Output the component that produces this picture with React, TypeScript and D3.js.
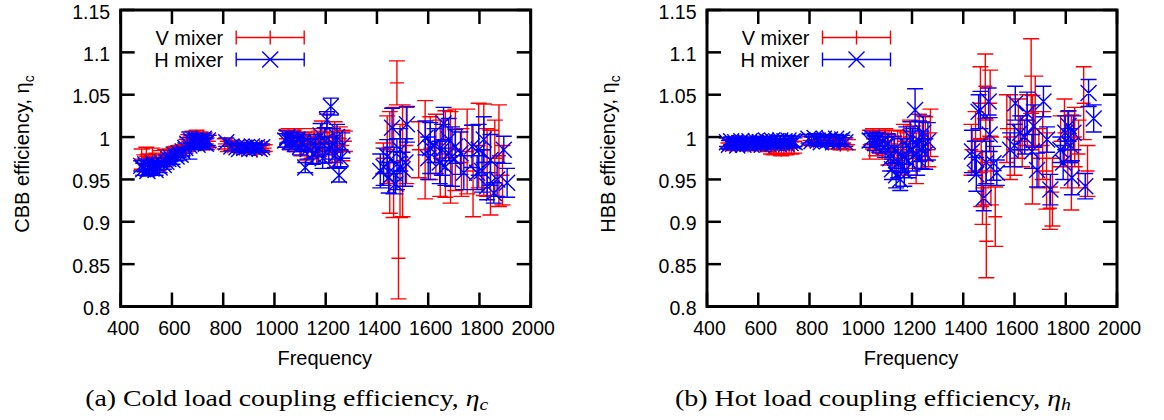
import React from 'react';
import * as d3 from 'd3';

type Pt = [number, number, number]; // frequency, efficiency, error

const freqTicks = [400, 600, 800, 1000, 1200, 1400, 1600, 1800, 2000];
const effTicks = [0.8, 0.85, 0.9, 0.95, 1.0, 1.05, 1.1, 1.15];
const effTickLabels = ['0.8', '0.85', '0.9', '0.95', '1', '1.05', '1.1', '1.15'];
const seriesNames = ['V mixer', 'H mixer'];
const xTitle = 'Frequency';

// (a) cold load, V mixer
const coldV: Pt[] = [
  [482, 0.974, 0.012], [492, 0.969, 0.010], [500, 0.977, 0.011], [508, 0.971, 0.009], [516, 0.966, 0.010], [524, 0.975, 0.012],
  [532, 0.970, 0.009], [540, 0.973, 0.008], [548, 0.968, 0.008], [556, 0.976, 0.008], [564, 0.972, 0.007], [572, 0.978, 0.007],
  [582, 0.977, 0.007], [590, 0.980, 0.006], [598, 0.979, 0.006], [606, 0.982, 0.006], [614, 0.984, 0.005], [622, 0.981, 0.005],
  [630, 0.985, 0.005], [638, 0.983, 0.005], [646, 0.986, 0.005],
  [656, 0.990, 0.007], [664, 0.995, 0.008], [672, 0.993, 0.007], [680, 0.998, 0.009], [688, 0.996, 0.008], [696, 1.000, 0.008],
  [704, 0.994, 0.007], [712, 0.998, 0.008], [720, 0.993, 0.007], [728, 0.997, 0.008], [736, 0.992, 0.007], [744, 0.995, 0.007],
  [806, 0.992, 0.006], [818, 0.989, 0.006], [830, 0.991, 0.005], [842, 0.988, 0.005],
  [852, 0.987, 0.004], [862, 0.989, 0.004], [872, 0.986, 0.004], [882, 0.988, 0.004], [892, 0.985, 0.004], [902, 0.987, 0.004],
  [912, 0.989, 0.004], [922, 0.986, 0.004], [932, 0.984, 0.004], [942, 0.988, 0.004], [952, 0.986, 0.004], [962, 0.987, 0.004],
  [1045, 0.998, 0.010], [1055, 1.002, 0.008], [1065, 0.995, 0.010], [1075, 0.999, 0.009], [1085, 0.993, 0.010], [1095, 1.001, 0.009],
  [1105, 0.990, 0.012], [1115, 0.996, 0.010], [1125, 0.985, 0.012], [1135, 0.994, 0.011], [1145, 0.988, 0.013], [1155, 0.998, 0.012],
  [1165, 0.983, 0.014], [1175, 0.992, 0.015], [1185, 1.005, 0.014], [1195, 0.985, 0.016], [1205, 1.010, 0.017], [1215, 0.995, 0.015],
  [1225, 0.988, 0.018], [1235, 1.002, 0.016], [1245, 0.982, 0.017], [1255, 0.998, 0.014], [1265, 0.990, 0.018], [1275, 0.995, 0.012],
  [1425, 0.975, 0.018], [1440, 0.985, 0.040], [1450, 0.970, 0.060], [1465, 0.970, 0.065], [1478, 1.064, 0.026], [1484, 0.857, 0.048],
  [1490, 0.960, 0.055], [1500, 0.972, 0.066], [1515, 0.990, 0.045],
  [1563, 0.985, 0.033], [1588, 0.985, 0.058], [1608, 0.987, 0.037], [1630, 0.992, 0.035], [1647, 0.975, 0.045], [1667, 0.980, 0.051],
  [1687, 0.976, 0.054], [1706, 0.985, 0.048], [1730, 0.970, 0.040], [1752, 0.983, 0.050],
  [1775, 0.960, 0.054], [1797, 0.990, 0.050], [1817, 0.985, 0.054], [1830, 0.970, 0.040], [1843, 0.958, 0.050], [1860, 0.975, 0.045],
  [1876, 0.978, 0.060], [1890, 0.955, 0.035],
];

// (a) cold load, H mixer
const coldH: Pt[] = [
  [480, 0.966, 0.006], [488, 0.962, 0.007], [496, 0.968, 0.006], [504, 0.960, 0.006], [512, 0.965, 0.007], [520, 0.963, 0.006],
  [528, 0.969, 0.006], [536, 0.961, 0.006], [544, 0.966, 0.005], [552, 0.964, 0.006], [560, 0.970, 0.005], [568, 0.967, 0.005],
  [578, 0.971, 0.005], [586, 0.974, 0.005], [594, 0.976, 0.005], [602, 0.973, 0.005], [610, 0.979, 0.005], [618, 0.977, 0.005],
  [626, 0.981, 0.005], [634, 0.979, 0.005], [642, 0.983, 0.005],
  [652, 0.987, 0.006], [660, 0.992, 0.007], [668, 0.990, 0.016], [676, 0.995, 0.007], [684, 0.993, 0.006], [692, 0.997, 0.007],
  [700, 0.991, 0.006], [708, 0.996, 0.007], [716, 0.994, 0.006], [724, 0.998, 0.006], [732, 0.992, 0.006], [740, 0.996, 0.006],
  [812, 0.994, 0.005], [832, 0.989, 0.005],
  [852, 0.988, 0.004], [862, 0.986, 0.004], [872, 0.989, 0.004], [882, 0.987, 0.004], [892, 0.988, 0.004], [902, 0.986, 0.004],
  [912, 0.989, 0.004], [922, 0.987, 0.004], [932, 0.988, 0.004], [942, 0.986, 0.004], [952, 0.988, 0.004],
  [1042, 0.996, 0.008], [1050, 1.000, 0.007], [1060, 0.994, 0.008], [1070, 0.998, 0.008], [1080, 0.992, 0.009], [1090, 0.997, 0.008],
  [1100, 0.989, 0.010], [1110, 0.994, 0.009], [1120, 0.964, 0.006], [1130, 0.986, 0.012], [1140, 0.993, 0.010], [1150, 0.980, 0.012],
  [1160, 0.990, 0.013], [1170, 0.984, 0.015], [1180, 1.002, 0.014], [1188, 0.975, 0.012], [1196, 0.995, 0.016], [1205, 1.020, 0.010],
  [1212, 0.985, 0.015], [1220, 1.036, 0.010], [1228, 0.992, 0.018], [1236, 0.978, 0.014], [1244, 1.000, 0.015], [1252, 0.955, 0.008],
  [1258, 0.975, 0.010], [1265, 0.990, 0.015],
  [1413, 0.960, 0.020], [1426, 0.965, 0.022], [1440, 0.977, 0.020], [1446, 0.952, 0.018], [1459, 1.011, 0.023], [1465, 0.958, 0.025],
  [1472, 0.945, 0.012], [1478, 0.968, 0.030], [1491, 0.985, 0.025], [1500, 0.962, 0.020], [1511, 0.970, 0.028], [1517, 1.015, 0.021],
  [1589, 0.999, 0.020], [1600, 0.975, 0.025], [1608, 0.987, 0.030], [1625, 0.990, 0.020], [1645, 0.970, 0.025], [1654, 0.985, 0.030],
  [1660, 1.016, 0.019], [1667, 0.965, 0.022], [1680, 0.997, 0.025], [1693, 0.977, 0.035], [1706, 0.989, 0.020], [1726, 0.981, 0.025],
  [1739, 0.958, 0.020],
  [1771, 0.989, 0.025], [1791, 0.958, 0.020], [1797, 0.985, 0.030], [1810, 0.960, 0.025], [1817, 0.997, 0.027], [1830, 0.942, 0.016],
  [1843, 0.973, 0.030], [1856, 0.934, 0.012], [1869, 0.950, 0.020], [1895, 0.985, 0.016], [1908, 0.946, 0.017],
];

// (b) hot load, V mixer
const hotV: Pt[] = [
  [480, 0.993, 0.006], [490, 0.991, 0.006], [500, 0.994, 0.006], [510, 0.990, 0.006], [520, 0.993, 0.005], [530, 0.991, 0.006],
  [540, 0.994, 0.005], [550, 0.992, 0.006], [560, 0.990, 0.006], [570, 0.993, 0.005], [580, 0.991, 0.006], [590, 0.994, 0.005],
  [600, 0.992, 0.006], [610, 0.990, 0.006], [620, 0.993, 0.005], [630, 0.991, 0.006],
  [640, 0.990, 0.007], [650, 0.988, 0.008], [660, 0.986, 0.007], [670, 0.989, 0.008], [680, 0.987, 0.007], [690, 0.985, 0.007],
  [700, 0.988, 0.008], [710, 0.986, 0.007], [720, 0.989, 0.008], [730, 0.987, 0.007], [740, 0.988, 0.007],
  [800, 0.996, 0.005], [815, 0.995, 0.005], [830, 0.997, 0.004], [845, 0.995, 0.004], [860, 0.996, 0.004], [875, 0.994, 0.005],
  [890, 0.995, 0.005], [905, 0.992, 0.006], [920, 0.991, 0.006], [935, 0.993, 0.006], [950, 0.991, 0.006],
  [1035, 0.991, 0.017], [1048, 0.998, 0.012], [1060, 0.993, 0.015], [1072, 0.996, 0.014], [1084, 0.990, 0.016], [1096, 0.995, 0.015],
  [1108, 0.985, 0.018], [1120, 0.992, 0.016], [1132, 0.980, 0.020], [1144, 0.990, 0.018], [1156, 0.985, 0.022], [1168, 0.995, 0.020],
  [1180, 0.980, 0.025], [1192, 1.000, 0.020], [1204, 0.988, 0.025], [1216, 0.975, 0.030], [1228, 1.005, 0.022], [1240, 0.990, 0.028],
  [1252, 0.998, 0.026], [1264, 0.985, 0.020], [1272, 1.005, 0.028],
  [1432, 0.985, 0.030], [1448, 0.995, 0.035], [1467, 1.040, 0.043], [1470, 0.958, 0.040], [1475, 0.940, 0.043], [1486, 1.060, 0.038],
  [1488, 0.970, 0.050], [1490, 0.877, 0.043], [1505, 1.040, 0.039], [1508, 0.960, 0.040], [1525, 0.906, 0.035],
  [1570, 1.010, 0.040], [1583, 1.000, 0.050], [1600, 0.985, 0.030], [1615, 1.010, 0.035], [1630, 0.995, 0.030], [1650, 1.020, 0.030],
  [1665, 1.072, 0.044], [1670, 0.985, 0.064], [1681, 1.030, 0.042], [1695, 0.975, 0.035], [1710, 0.990, 0.040], [1725, 0.960, 0.045],
  [1738, 0.916, 0.025], [1748, 0.935, 0.040],
  [1780, 0.995, 0.030], [1795, 1.005, 0.040], [1808, 0.985, 0.045], [1822, 0.970, 0.056], [1835, 1.000, 0.035], [1850, 0.980, 0.040],
  [1870, 1.040, 0.043], [1885, 0.960, 0.030],
];

// (b) hot load, H mixer
const hotH: Pt[] = [
  [478, 0.994, 0.005], [486, 0.991, 0.005], [494, 0.995, 0.005], [502, 0.992, 0.005], [510, 0.994, 0.005], [518, 0.990, 0.005],
  [526, 0.993, 0.005], [534, 0.995, 0.005], [542, 0.991, 0.005], [550, 0.994, 0.005], [558, 0.992, 0.005], [566, 0.995, 0.005],
  [574, 0.991, 0.005], [582, 0.993, 0.005], [590, 0.995, 0.005], [598, 0.992, 0.005], [606, 0.994, 0.005], [614, 0.991, 0.005],
  [622, 0.993, 0.005], [630, 0.996, 0.005], [638, 0.992, 0.005], [646, 0.994, 0.005], [654, 0.996, 0.005], [662, 0.993, 0.005],
  [670, 0.995, 0.006], [678, 0.992, 0.005], [686, 0.996, 0.006], [694, 0.993, 0.005], [702, 0.995, 0.006], [710, 0.992, 0.005],
  [718, 0.996, 0.006], [726, 0.993, 0.005], [734, 0.995, 0.006], [742, 0.994, 0.005],
  [796, 0.998, 0.005], [808, 0.995, 0.005], [820, 0.999, 0.005], [832, 0.996, 0.005], [844, 0.994, 0.005], [856, 0.998, 0.005],
  [868, 0.995, 0.005], [880, 0.997, 0.005], [892, 0.994, 0.005], [904, 0.998, 0.005], [916, 0.995, 0.005], [928, 0.997, 0.005],
  [940, 0.994, 0.005],
  [1035, 0.996, 0.008], [1045, 0.999, 0.007], [1055, 0.993, 0.009], [1065, 0.997, 0.008], [1075, 0.991, 0.010], [1085, 0.995, 0.009],
  [1095, 0.988, 0.012], [1105, 0.993, 0.011], [1115, 0.975, 0.015], [1122, 0.962, 0.012], [1130, 0.985, 0.016], [1138, 0.955, 0.015],
  [1146, 0.970, 0.018], [1154, 0.950, 0.013], [1162, 0.978, 0.020], [1170, 0.960, 0.018], [1178, 0.990, 0.022], [1186, 0.972, 0.020],
  [1194, 1.000, 0.018], [1202, 0.985, 0.025], [1212, 1.032, 0.025], [1220, 0.975, 0.020], [1228, 0.995, 0.024], [1236, 0.985, 0.022],
  [1244, 1.005, 0.020], [1252, 0.980, 0.018], [1262, 0.995, 0.022],
  [1434, 0.983, 0.025], [1445, 0.975, 0.020], [1451, 0.956, 0.020], [1460, 1.030, 0.020], [1467, 1.032, 0.022], [1480, 0.928, 0.015],
  [1490, 0.970, 0.025], [1499, 1.042, 0.016], [1503, 1.003, 0.020], [1518, 0.969, 0.020], [1531, 0.958, 0.015],
  [1583, 0.985, 0.020], [1600, 0.990, 0.025], [1603, 1.040, 0.020], [1622, 1.005, 0.020], [1640, 1.000, 0.020], [1649, 1.028, 0.025],
  [1668, 0.983, 0.020], [1675, 1.013, 0.025], [1688, 0.961, 0.020], [1713, 1.042, 0.018], [1727, 0.997, 0.015], [1740, 0.938, 0.018],
  [1779, 0.985, 0.015], [1790, 0.970, 0.020], [1798, 1.005, 0.020], [1811, 1.013, 0.018], [1818, 0.990, 0.020], [1824, 0.952, 0.020],
  [1830, 1.005, 0.020], [1876, 0.942, 0.015], [1889, 1.052, 0.016], [1909, 1.022, 0.016],
];

const W = 1164;
const H = 420;
const TOP = 10;
const BOTTOM = 306.5;
const PW = 410;
const RED = '#ff0000';
const BLUE = '#0000ff';
const SANS = '"Liberation Sans", Arial, Helvetica, sans-serif';
const SERIF = '"Liberation Serif", "Times New Roman", serif';

type Scale = d3.ScaleLinear<number, number>;

function errorBarPath(data: Pt[], x: Scale, y: Scale, marker: 'plus' | 'cross'): string {
  const p = d3.path();
  for (const [f, v, e] of data) {
    const cx = x(f);
    const cy = y(v);
    const yHi = y(v + e);
    const yLo = y(v - e);
    p.moveTo(cx, yLo);
    p.lineTo(cx, yHi);
    p.moveTo(cx - 8, yHi);
    p.lineTo(cx + 8, yHi);
    p.moveTo(cx - 8, yLo);
    p.lineTo(cx + 8, yLo);
    if (marker === 'plus') {
      p.moveTo(cx - 7, cy);
      p.lineTo(cx + 7, cy);
      p.moveTo(cx, cy - 7);
      p.lineTo(cx, cy + 7);
    } else {
      p.moveTo(cx - 8, cy - 8);
      p.lineTo(cx + 8, cy + 8);
      p.moveTo(cx - 8, cy + 8);
      p.lineTo(cx + 8, cy - 8);
    }
  }
  return p.toString();
}

function legendSample(x1: number, x2: number, cy: number, marker: 'plus' | 'cross'): string {
  const p = d3.path();
  const cx = (x1 + x2) / 2;
  p.moveTo(x1, cy);
  p.lineTo(x2, cy);
  p.moveTo(x1, cy - 7);
  p.lineTo(x1, cy + 7);
  p.moveTo(x2, cy - 7);
  p.lineTo(x2, cy + 7);
  if (marker === 'plus') {
    p.moveTo(cx - 7, cy);
    p.lineTo(cx + 7, cy);
    p.moveTo(cx, cy - 7);
    p.lineTo(cx, cy + 7);
  } else {
    p.moveTo(cx - 8, cy - 8);
    p.lineTo(cx + 8, cy + 8);
    p.moveTo(cx - 8, cy + 8);
    p.lineTo(cx + 8, cy - 8);
  }
  return p.toString();
}

interface PanelProps {
  x0: number;
  yTitle: string;
  yTitleSub: string;
  caption: string;
  captionSub: string;
  captionLen: number;
  vData: Pt[];
  hData: Pt[];
}

function Panel({ x0, yTitle, yTitleSub, caption, captionSub, captionLen, vData, hData }: PanelProps) {
  const x = d3.scaleLinear().domain([400, 2000]).range([x0, x0 + PW]);
  const y = d3.scaleLinear().domain([0.8, 1.15]).range([BOTTOM, TOP]);
  const legendRows = [
    { name: seriesNames[0], color: RED, marker: 'plus' as const, cy: 37.5, base: 45 },
    { name: seriesNames[1], color: BLUE, marker: 'cross' as const, cy: 59.5, base: 66.5 },
  ];
  return (
    <g>
      <path d={errorBarPath(vData, x, y, 'plus')} stroke={RED} strokeWidth={1.4} fill="none" />
      <path d={errorBarPath(hData, x, y, 'cross')} stroke={BLUE} strokeWidth={1.4} fill="none" />

      {legendRows.map((r) => (
        <g key={r.name}>
          <text x={x0 + 102.5} y={r.base} textAnchor="end" fontFamily={SANS} fontSize={20} fill="#000">
            {r.name}
          </text>
          <path d={legendSample(x0 + 115.5, x0 + 183.5, r.cy, r.marker)} stroke={r.color} strokeWidth={1.4} fill="none" />
        </g>
      ))}

      {freqTicks.map((t) => (
        <g key={'x' + t}>
          <line x1={x(t)} x2={x(t)} y1={BOTTOM} y2={BOTTOM - 14} stroke="#000" strokeWidth={2.5} />
          <line x1={x(t)} x2={x(t)} y1={TOP} y2={TOP + 14} stroke="#000" strokeWidth={2.5} />
          <text x={x(t) + 2.5} y={335} textAnchor="middle" fontFamily={SANS} fontSize={19.5} fill="#000">
            {t}
          </text>
        </g>
      ))}
      {effTicks.map((t, i) => (
        <g key={'y' + i}>
          <line x1={x0} x2={x0 + 14} y1={y(t)} y2={y(t)} stroke="#000" strokeWidth={2.5} />
          <line x1={x0 + PW} x2={x0 + PW - 14} y1={y(t)} y2={y(t)} stroke="#000" strokeWidth={2.5} />
          <text x={x0 - 10.5} y={y(t) + 8.5} textAnchor="end" fontFamily={SANS} fontSize={19.5} fill="#000">
            {effTickLabels[i]}
          </text>
        </g>
      ))}
      <rect x={x0} y={TOP} width={PW} height={BOTTOM - TOP} fill="none" stroke="#000" strokeWidth={3} />

      <text x={x0 + 204} y={365} textAnchor="middle" fontFamily={SANS} fontSize={20} fill="#000">
        {xTitle}
      </text>
      <text
        transform={`translate(${x0 - 92},154) rotate(-90)`}
        textAnchor="middle"
        fontFamily={SANS}
        fontSize={20}
        fill="#000"
      >
        {yTitle}
        <tspan fontSize={14} dy={5}>
          {yTitleSub}
        </tspan>
      </text>

      <text
        x={x0 + 166}
        y={406}
        textAnchor="middle"
        fontFamily={SERIF}
        fontSize={24}
        fill="#000"
        textLength={captionLen}
        lengthAdjust="spacingAndGlyphs"
      >
        {caption}
        <tspan fontStyle="italic">η</tspan>
        <tspan fontStyle="italic" fontSize={17} dy={4}>
          {captionSub}
        </tspan>
      </text>
    </g>
  );
}

export default function App() {
  return (
    <svg
      width={W}
      height={H}
      viewBox={`0 0 ${W} ${H}`}
      style={{ position: 'absolute', left: 0, top: 0, background: '#fff' }}
    >
      <rect x={0} y={0} width={W} height={H} fill="#fff" />
      <Panel
        x0={120.7}
        yTitle="CBB efficiency, η"
        yTitleSub="c"
        caption="(a) Cold load coupling efficiency, "
        captionSub="c"
        captionLen={403}
        vData={coldV}
        hData={coldH}
      />
      <Panel
        x0={707}
        yTitle="HBB efficiency, η"
        yTitleSub="c"
        caption="(b) Hot load coupling efficiency, "
        captionSub="h"
        captionLen={396}
        vData={hotV}
        hData={hotH}
      />
    </svg>
  );
}
